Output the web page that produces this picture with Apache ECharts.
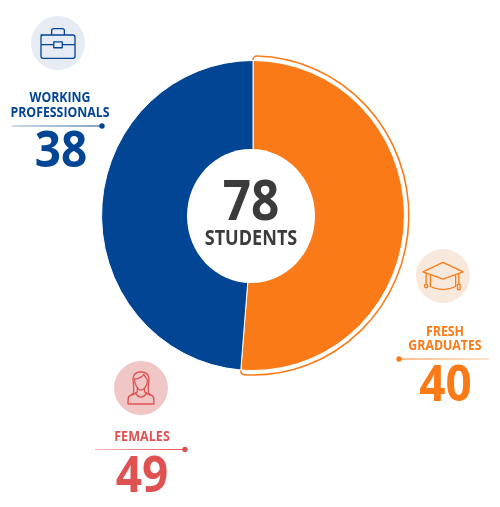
<!DOCTYPE html>
<html><head><meta charset="utf-8">
<script src="https://cdn.jsdelivr.net/npm/echarts@6/dist/echarts.min.js"></script>
<style>html,body{margin:0;padding:0;background:#fff}#c{width:500px;height:507px}</style></head>
<body><div id="c"></div>
<script>
const categories = ['FRESH GRADUATES', 'WORKING PROFESSIONALS'];
const seriesValues = [40, 38];
const totalValue = 78;
const totalLabel = 'STUDENTS';
const femaleLabel = 'FEMALES';
const femaleValue = 49;
const colors = {orange:'#FB7A18', blue:'#024594', red:'#E05151', dark:'#3B3B3B'};

const FONT = '"Open Sans","Noto Sans",sans-serif';
const chart = echarts.init(document.getElementById('c'), null, {renderer:'canvas'});
const cx = 253, cy = 215.5;

function txt(x, y, s, size, color, sx) {
  return {type:'text', x, y, scaleX:sx||0.88, z:10,
    style:{text:String(s), fill:color, font:'700 '+size+'px '+FONT, textAlign:'center', textVerticalAlign:'middle'}};
}
function rule(x1, x2, y, dotX, color) {
  const toRight = dotX > (x1+x2)/2;
  return [
    {type:'line', z:10, shape:{x1,y1:y,x2,y2:y}, style:{lineWidth:1.2, stroke:new echarts.graphic.LinearGradient(toRight?0:1,0,toRight?1:0,0,[{offset:0,color:color+'66'},{offset:1,color:color}])}},
    {type:'circle', z:10, shape:{cx:dotX,cy:y,r:2.7}, style:{fill:color}}
  ];
}
function badge(x, y, r, fill) { return {type:'circle', z:5, shape:{cx:x,cy:y,r}, style:{fill}}; }

const caseIcon = 'M2 8 H32 Q34 8 34 10 V28 Q34 30 32 30 H4 Q2 30 2 28 V10 Q2 8 4 8 Z M12 8 V4 Q12 2 14 2 H22 Q24 2 24 4 V8 M2 17 H14 M22 17 H34 M14 14.5 H22 V20 H14 Z';
const capIcon = 'M1 11 L20 2 L39 11 L20 18 Z M8 14 V25 Q20 31 32 25 V14 M4 12 V23 M35 13 V23 M33.8 23 H36.2 V28 H33.8 Z M4 23 a1.6 1.6 0 1 0 0.01 0 Z';
const womanIcon = 'M9 24 C10 16 7 12 9 8 C11 2 23 2 25 8 C27 12 24 16 25 24 C24 26 27 28 29 29 M9 24 C10 26 7 28 5 29 M10 11 C15 11 19 8 20 6 C21 9 23 10 24 12 C24 18 20 23 17 23 C14 23 10 18 10 11 Z M13 22 V25 C11 27 8 28 5 29 C3 30 3 32 3 38 H31 C31 32 31 30 29 29 C26 28 23 27 21 25 V22 M11 26 C14 32 20 32 23 26';
const iconList = [
  {d:caseIcon, x:58, y:43.5, w:34, h:30, color:colors.blue, fill:'#E6EBF4'},
  {d:capIcon, x:443, y:276, w:40, h:29, color:colors.orange, fill:'none'},
  {d:womanIcon, x:141, y:388, w:28, h:32, color:colors.red, fill:'none'}
];

chart.setOption({
  animation:false,
  series:[
    {type:'pie', silent:true, center:[cx,cy], radius:[64,159.5], startAngle:90, clockwise:true, z:1,
     label:{show:false}, labelLine:{show:false},
     data:[
       {value:seriesValues[0], name:categories[0], itemStyle:{color:'#fff', borderColor:colors.orange, borderWidth:1.6, borderRadius:4}},
       {value:seriesValues[1], name:categories[1], itemStyle:{color:'transparent', borderWidth:0}}]},
    {type:'pie', silent:true, center:[cx,cy], radius:[60,155], startAngle:90, clockwise:true, z:2,
     label:{show:false}, labelLine:{show:false},
     itemStyle:{borderColor:'#fff', borderWidth:1},
     data:[
       {value:seriesValues[0], name:categories[0], itemStyle:{color:colors.orange}},
       {value:seriesValues[1], name:categories[1], itemStyle:{color:colors.blue}}]},
    {type:'custom', coordinateSystem:'none', silent:true, z:7, data:iconList.map((_, i) => i),
     renderItem:(p) => {
       const k = iconList[p.dataIndex];
       return {type:'path', shape:{pathData:k.d, x:k.x-k.w/2, y:k.y-k.h/2, width:k.w, height:k.h, layout:'center'},
         style:{fill:k.fill, stroke:k.color, lineWidth:1.3, lineJoin:'round', lineCap:'round'}};
     }}
  ],
  graphic:{elements:[
    {type:'ellipse', z:4, shape:{cx:251,cy:216,rx:64,ry:67}, style:{fill:'#fff'}},
    txt(251,204.5,totalValue,55,colors.dark,0.9),
    txt(251,239.5,totalLabel,20.5,colors.dark,0.88),

    badge(58,43,27,'#E6EBF4'),
    txt(60,98.5,'WORKING',14,colors.blue,0.88),
    txt(60,113,'PROFESSIONALS',14,colors.blue,0.88),
    ...rule(12,102,126,102,colors.blue),
    txt(61,152,seriesValues[1],51,colors.blue,0.9),

    badge(443,276,27,'#F9E8DC'),
    txt(445,332.5,'FRESH',14,colors.orange,0.88),
    txt(445,346.5,'GRADUATES',14,colors.orange,0.88),
    ...rule(399,489,359,399,colors.orange),
    txt(445.5,386,seriesValues[0],51,colors.orange,0.9),

    badge(141,388,27,'#F0C6C6'),
    txt(142,437,femaleLabel,14,colors.red,0.9),
    ...rule(95,185,449.5,185,colors.red),
    txt(142,477.5,femaleValue,51,colors.red,0.9)
  ]}
});

// The reference's doughnut is very slightly narrower than it is tall.
(chart._chartsViews || []).forEach((view) => {
  if (view.type === 'pie') {
    view.group.originX = cx;
    view.group.originY = cy;
    view.group.scaleX = 0.977;
    view.group.markRedraw();
  }
});
chart.getZr().refreshImmediately();
</script></body></html>
